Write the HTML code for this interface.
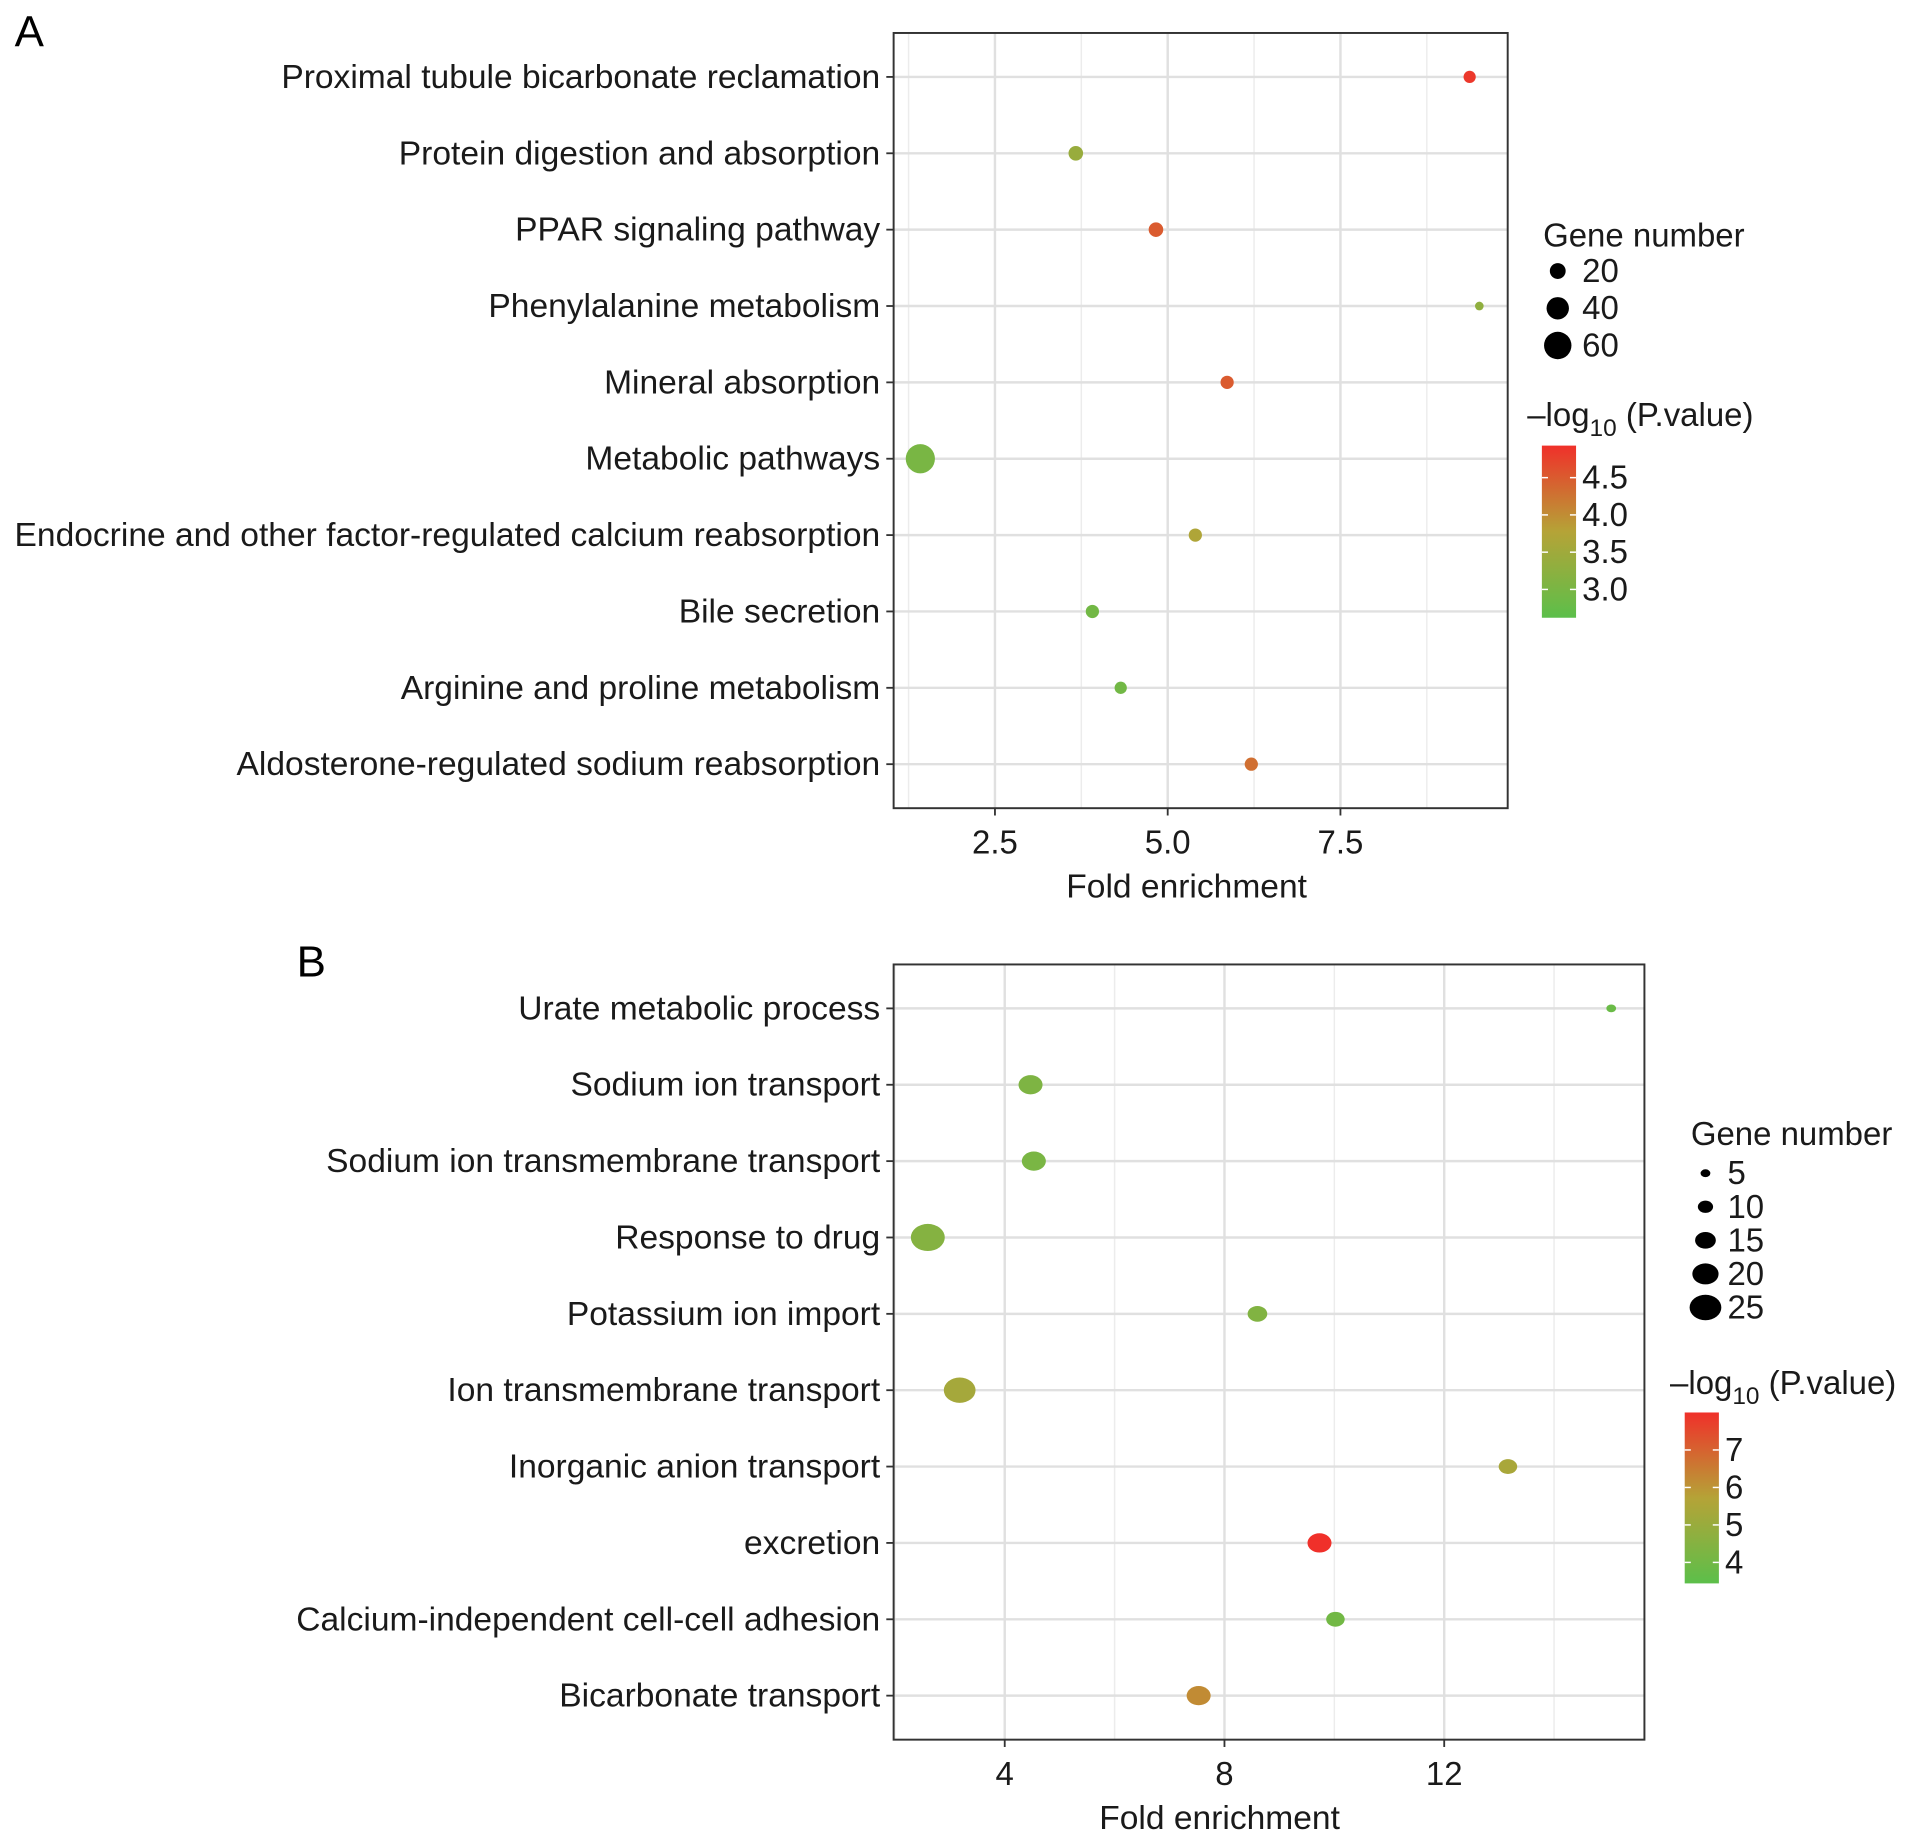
<!DOCTYPE html>
<html><head><meta charset="utf-8"><style>
html,body{margin:0;padding:0;background:#fff;}
svg{display:block;font-family:"Liberation Sans",Arial,sans-serif;}
</style></head><body>
<svg id="chart" width="1913" height="1841" viewBox="0 0 1567 1508" xmlns="http://www.w3.org/2000/svg">
<defs>
<linearGradient id="gradA" x1="0" y1="1" x2="0" y2="0"><stop offset="0" stop-color="#5cbf4a"/><stop offset="0.5" stop-color="#b5a337"/><stop offset="1" stop-color="#f0302a"/></linearGradient>
<linearGradient id="gradB" x1="0" y1="1" x2="0" y2="0"><stop offset="0" stop-color="#5cbf4a"/><stop offset="0.5" stop-color="#b5a337"/><stop offset="1" stop-color="#f0302a"/></linearGradient>
</defs>
<text x="12" y="38" font-size="36">A</text>
<text x="243" y="800" font-size="36">B</text>
<g id="pa"></g>
<g id="pb"></g>
</svg>
<script>
const catsA = ["Proximal tubule bicarbonate reclamation","Protein digestion and absorption","PPAR signaling pathway","Phenylalanine metabolism","Mineral absorption","Metabolic pathways","Endocrine and other factor-regulated calcium reabsorption","Bile secretion","Arginine and proline metabolism","Aldosterone-regulated sodium reabsorption"];
const foldA = [9.37,3.67,4.83,9.51,5.86,1.42,5.40,3.91,4.32,6.21];
const genesA = [12,17,17,6,14,68,14,14,12,14];
const pA = [4.85,3.4,4.5,3.3,4.5,3.0,3.7,2.9,2.9,4.3];
const ticksA = [2.5,5.0,7.5];
const tickLabelsA = ["2.5","5.0","7.5"];
const sizeLegA = [20,40,60];
const colorTicksA = [4.5,4.0,3.5,3.0];

const catsB = ["Urate metabolic process","Sodium ion transport","Sodium ion transmembrane transport","Response to drug","Potassium ion import","Ion transmembrane transport","Inorganic anion transport","excretion","Calcium-independent cell-cell adhesion","Bicarbonate transport"];
const foldB = [15.04,4.47,4.53,2.6,8.6,3.18,13.16,9.73,10.02,7.53];
const genesB = [5,18,18,27,14,25,13,18,13,18];
const pB = [3.8,4.3,4.2,4.5,4.4,5.3,5.4,8.0,4.0,6.2];
const ticksB = [4,8,12];
const tickLabelsB = ["4","8","12"];
const sizeLegB = [5,10,15,20,25];
const colorTicksB = [7,6,5,4];

const NS="http://www.w3.org/2000/svg";
function mk(parent,tag,attrs,text){const e=document.createElementNS(NS,tag);for(const k in attrs)e.setAttribute(k,attrs[k]);if(text!==undefined)e.textContent=text;parent.appendChild(e);return e;}
function lerp(a,b,t){return a+(b-a)*t;}
function hex(c){return [parseInt(c.slice(1,3),16),parseInt(c.slice(3,5),16),parseInt(c.slice(5,7),16)];}
function colorAt(t){t=Math.max(0,Math.min(1,t));const s=[hex("#5cbf4a"),hex("#b5a337"),hex("#f0302a")];let a,b,u;if(t<0.5){a=s[0];b=s[1];u=t/0.5;}else{a=s[1];b=s[2];u=(t-0.5)/0.5;}return "rgb("+[0,1,2].map(i=>Math.round(lerp(a[i],b[i],u))).join(",")+")";}

function panel(g,cfg){
  const {x0,x1,y0,y1,xs,rowY,cats,fold,genes,p,ticks,tickLabels,minor,rad,ryf,pmin,pmax,grad,leg} = cfg;
  mk(g,"rect",{x:x0,y:y0,width:x1-x0,height:y1-y0,fill:"#fff"});
  minor.forEach(v=>{const l=mk(g,"line",{x1:xs(v),x2:xs(v),y1:y0,y2:y1,stroke:"#ececec","stroke-width":1.2});});
  ticks.forEach(v=>{const l=mk(g,"line",{x1:xs(v),x2:xs(v),y1:y0,y2:y1,stroke:"#e0e0e0","stroke-width":2});});
  cats.forEach((c,i)=>{const y=rowY(i);
    const l=mk(g,"line",{x1:x0,x2:x1,y1:y,y2:y,stroke:"#e0e0e0","stroke-width":2});
    mk(g,"line",{x1:x0-6,x2:x0,y1:y,y2:y,stroke:"#333","stroke-width":1.5});
    const t=mk(g,"text",{x:x0-11,y:y+9,"font-size":27.5,"text-anchor":"end",fill:"#1a1a1a"},c);
  });
  mk(g,"rect",{x:x0,y:y0,width:x1-x0,height:y1-y0,fill:"none",stroke:"#333","stroke-width":1.6});
  ticks.forEach((v,i)=>{mk(g,"line",{x1:xs(v),x2:xs(v),y1:y1,y2:y1+6,stroke:"#333","stroke-width":1.5});
    const t=mk(g,"text",{x:xs(v),y:y1+37,"font-size":27,"text-anchor":"middle",fill:"#1a1a1a"},tickLabels[i]);});
  const xt=mk(g,"text",{x:cfg.xtitleX,y:y1+73,"font-size":27.5,"text-anchor":"middle",fill:"#1a1a1a"},"Fold enrichment");
  cats.forEach((c,i)=>{const r=rad(genes[i]);
    const e=mk(g,"ellipse",{cx:xs(fold[i]),cy:rowY(i),rx:r,ry:r*ryf,fill:colorAt((p[i]-pmin)/(pmax-pmin))});
    });
  const L=leg;
  const st=mk(g,"text",{x:L.x,y:L.sy,"font-size":27,fill:"#1a1a1a"},"Gene number");
  cfg.sizeLeg.forEach((n,i)=>{const y=L.s0+i*L.sdy;const r=rad(n);
    const k=mk(g,"ellipse",{cx:L.kx,cy:y,rx:r,ry:r*ryf,fill:"#000"});
    const t=mk(g,"text",{x:L.kx+L.tx,y:y+9,"font-size":27,fill:"#1a1a1a"},String(n));});
  const ct=mk(g,"text",{x:L.cx-12,y:L.cty,"font-size":27,fill:"#1a1a1a"});
  ct.innerHTML='\u2013log<tspan font-size="20" dy="8">10</tspan><tspan dy="-8"> (P.value)</tspan>';
  const bar=mk(g,"rect",{x:L.cx,y:L.cy0,width:28,height:L.cy1-L.cy0,fill:"url(#"+grad+")"});
  const cy=v=>L.cy1-(v-pmin)/(pmax-pmin)*(L.cy1-L.cy0);
  cfg.colorTicks.forEach(v=>{const y=cy(v);
    mk(g,"line",{x1:L.cx,x2:L.cx+5,y1:y,y2:y,stroke:"#fff","stroke-width":1.2});mk(g,"line",{x1:L.cx+23,x2:L.cx+28,y1:y,y2:y,stroke:"#fff","stroke-width":1.2});
    const t=mk(g,"text",{x:L.cx+33,y:y+9,"font-size":27,fill:"#1a1a1a"},cfg.colorFmt(v));});
}
panel(document.getElementById("pa"),{x0:732,x1:1235,y0:27,y1:662,xs:v=>815+(v-2.5)*56.6,rowY:i=>63+i*62.55,
  cats:catsA,fold:foldA,genes:genesA,p:pA,ticks:ticksA,tickLabels:tickLabelsA,minor:[1.25,3.75,6.25,8.75],
  rad:n=>1.45*Math.sqrt(n),ryf:1,pmin:2.62,pmax:4.93,grad:"gradA",xtitleX:972,sizeLeg:sizeLegA,colorTicks:colorTicksA,colorFmt:v=>v.toFixed(1),
  leg:{x:1264,sy:202,s0:222,kx:1276,tx:20,sdy:30.5,cx:1263,cty:349,cy0:365,cy1:506}});
panel(document.getElementById("pb"),{x0:732,x1:1347,y0:790,y1:1425,xs:v=>823+(v-4)*45,rowY:i=>826+i*62.55,
  cats:catsB,fold:foldB,genes:genesB,p:pB,ticks:ticksB,tickLabels:tickLabelsB,minor:[2,6,10,14],
  rad:n=>4+(n-5)*0.45,ryf:0.8,pmin:3.44,pmax:8.0,grad:"gradB",xtitleX:999,sizeLeg:sizeLegB,colorTicks:colorTicksB,colorFmt:v=>String(v),
  leg:{x:1385,sy:938,s0:961,kx:1397,tx:18,sdy:27.5,cx:1380,cty:1142,cy0:1157,cy1:1297}});
</script>
</body></html>
